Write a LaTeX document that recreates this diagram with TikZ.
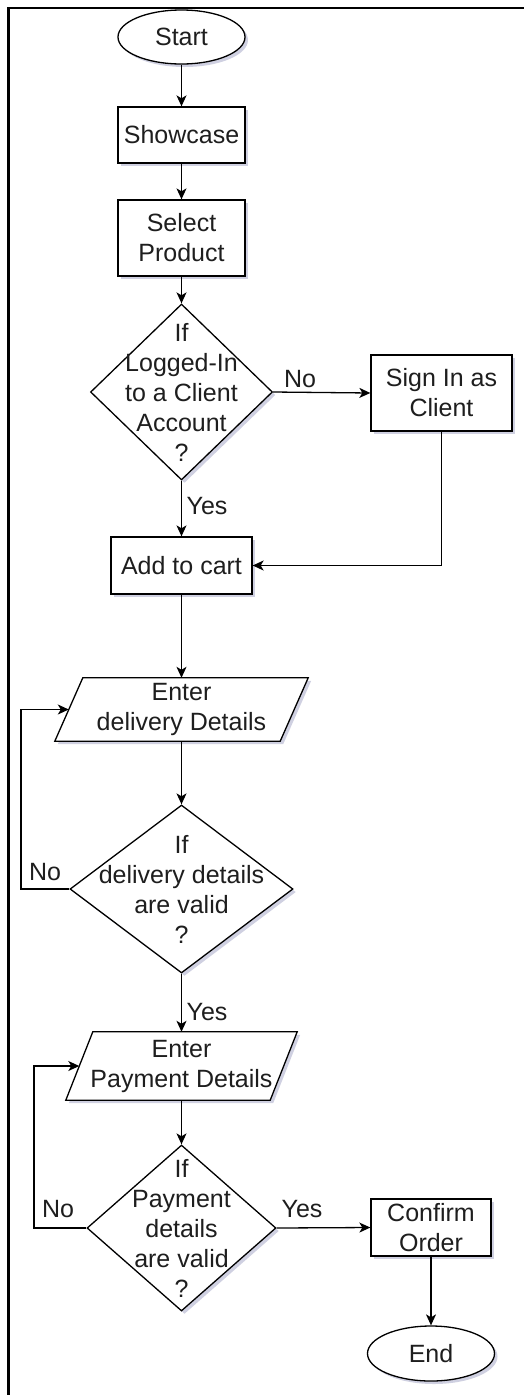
\documentclass[tikz,border=0pt]{standalone}
\usepackage{fontspec}
\setmainfont{Liberation Sans}
\usetikzlibrary{shapes.geometric,arrows.meta,shadows,calc,backgrounds}

\definecolor{shadowblue}{RGB}{160,162,195}
\definecolor{textgray}{RGB}{30,30,30}

\begin{document}
\begin{tikzpicture}[x=1pt,y=-1pt,
  shape shadow/.style={drop shadow={shadow xshift=3pt,shadow yshift=-3pt,fill=shadowblue,opacity=0.5}},
  outline/.style={draw=black,line width=1.3pt,fill=white,shape shadow},
  base/.style={outline,inner sep=0pt,
    font=\fontsize{25}{30}\selectfont,text=textgray,align=center},
  terminal/.style={base,ellipse},
  process/.style={base,rectangle},
  decision/.style={base,diamond},
  inside/.style={font=\fontsize{25}{30}\selectfont,text=textgray,align=center,inner sep=0pt},
  iotext/.style={inside,rectangle,minimum height=63pt},
  flow/.style={draw=black,line width=1.3pt,-{Stealth[length=11pt,width=10pt,inset=3pt]}},
  tag/.style={font=\fontsize{25}{30}\selectfont,text=textgray,inner sep=0pt}
]
\useasboundingbox (0,0) rectangle (524,1395);

% page frame
\draw[line width=2.4pt] (524,8) -- (8.5,8) -- (8.5,1395);

% main column
\node[terminal,minimum width=127pt,minimum height=54pt] (start) at (181.5,37) {Start};
\node[process,minimum width=127pt,minimum height=56pt] (show) at (181.5,135) {Showcase};
\node[process,minimum width=127pt,minimum height=76pt] (select) at (181.5,238) {Select\\Product};
\node[decision,minimum width=182pt,minimum height=176pt,
  label={[inside]center:If\\Logged-In\\to a Client\\Account\\?}] (q1) at (181.5,392) {};
\node[process,minimum width=141pt,minimum height=76pt] (sign) at (441.5,393) {Sign In as\\Client};
\node[process,minimum width=141pt,minimum height=57pt] (cart) at (181.5,565.5) {Add to cart};
\node[iotext,minimum width=225pt,minimum height=63pt] (pd1) at (181.5,709.5) {Enter\\delivery Details};
\node[decision,minimum width=223pt,minimum height=168pt,
  label={[inside]center:If\\delivery details\\are valid\\?}] (q2) at (181.5,889) {};
\node[iotext,minimum width=204pt,minimum height=68pt] (pp) at (181.5,1066) {Enter\\Payment Details};
\node[decision,minimum width=189pt,minimum height=166pt,
  label={[inside]center:If\\Payment\\details\\are valid\\?}] (q3) at (181.5,1228) {};
\node[process,minimum width=120pt,minimum height=57pt] (confirm) at (431,1227.5) {Confirm\\Order};
\node[terminal,minimum width=127pt,minimum height=55pt] (end) at (431,1353.5) {End};

% parallelogram outlines behind the input texts
\begin{scope}[on background layer]
  \draw[outline] ($(pd1.north west)+(14,0)$) -- ($(pd1.north east)+(14,0)$)
    -- ($(pd1.south east)+(-14,0)$) -- ($(pd1.south west)+(-14,0)$) -- cycle;
  \draw[outline] ($(pp.north west)+(13.5,0)$) -- ($(pp.north east)+(13.5,0)$)
    -- ($(pp.south east)+(-13.5,0)$) -- ($(pp.south west)+(-13.5,0)$) -- cycle;
\end{scope}

% loop corners
\coordinate (loopA) at (21,889);
\coordinate (loopB) at (34,1228);

% connectors
\draw[flow] (start) -- (show);
\draw[flow] (show) -- (select);
\draw[flow] (select) -- (q1);
\draw[flow] (q1.east) -- (sign.west);
\draw[flow] (q1.south) -- (cart.north);
\draw[flow] (sign.south) |- (cart.east);
\draw[flow] (cart) -- (pd1);
\draw[flow] (pd1) -- (q2);
\draw[flow] (q2.west) -- (loopA) |- (pd1.west);
\draw[flow] (q2.south) -- (pp.north);
\draw[flow] (pp) -- (q3);
\draw[flow] (q3.west) -- (loopB) |- (pp.west);
\draw[flow] (q3.east) -- (confirm.west);
\draw[flow] (confirm) -- (end);

% branch labels
\node[tag] (noA) at (300,379) {No};
\node[tag] (yesA) at (207,506) {Yes};
\node[tag] (noB) at (45,872) {No};
\node[tag] (yesB) at (207,1012) {Yes};
\node[tag] (noC) at (58,1209) {No};
\node[tag] (yesC) at (302,1209) {Yes};
\end{tikzpicture}
\end{document}
